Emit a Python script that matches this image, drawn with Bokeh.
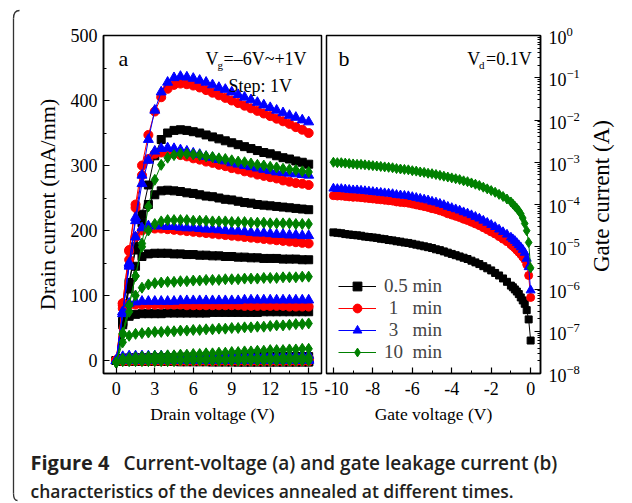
import math
from bokeh.plotting import figure
from bokeh.layouts import row, column
from bokeh.models import (Range1d, SingleIntervalTicker, LogTicker, Legend,
                          LegendItem, Label, NumeralTickFormatter)
from bokeh.embed import file_html
from bokeh.resources import INLINE
from bokeh.core.properties import value

SERIF = "Liberation Serif"

# ---------------- panel a data: drain current (mA/mm) vs drain voltage (V)
VD = [0, 0.5, 1, 1.5, 2, 2.5, 3, 3.5, 4, 4.5, 5, 5.5, 6, 6.5, 7, 7.5, 8, 8.5,
      9, 9.5, 10, 10.5, 11, 11.5, 12, 12.5, 13, 13.5, 14, 14.5, 15]
VG_LEVELS = ["+1", "0", "-1", "-2", "-3", "-4", "-5", "-6"]

ID_05MIN = [
    [0, 60, 120, 175, 225, 270, 315, 340, 350, 354, 355, 354, 352, 350, 347, 344, 341, 338, 335, 332, 329, 326, 323, 320, 318, 315, 312, 310, 307, 305, 302],
    [0, 60, 118, 170, 212, 240, 255, 261, 262, 261, 260, 258, 257, 255, 253, 252, 250, 248, 247, 245, 243, 242, 240, 239, 238, 237, 236, 235, 234, 233, 232],
    [0, 58, 110, 145, 160, 164, 165, 165, 165, 164, 164, 163, 163, 162, 162, 161, 161, 160, 160, 159, 159, 158, 158, 157, 157, 157, 156, 156, 156, 155, 155],
    [0, 55, 68, 71, 72, 72, 72, 72, 73, 73, 73, 73, 73, 73, 73, 74, 74, 74, 74, 74, 74, 74, 74, 75, 75, 75, 75, 75, 75, 75, 75],
    [0, 3, 4, 4, 4, 4, 4, 4, 4, 4, 5, 5, 5, 5, 5, 5, 5, 5, 5, 5, 5, 5, 6, 6, 6, 6, 6, 6, 6, 6, 6],
    [0, -1, -1, -1, -1, -1, -1, -1, -1, -1, -1, -1, -1, -1, -1, -1, -1, -1, -1, -2, -2, -2, -2, -2, -2, -2, -2, -2, -2, -2, -2],
    [0, -1, -1, -1, -1, -1, -1, -1, -1, -1, -1, -1, -1, -1, -1, -2, -2, -2, -2, -2, -2, -2, -2, -2, -2, -2, -2, -2, -2, -2, -2],
    [0, -1, -1, -1, -1, -1, -1, -1, -1, -1, -2, -2, -2, -2, -2, -2, -2, -2, -2, -2, -2, -2, -2, -2, -2, -2, -2, -2, -2, -2, -2],
]
ID_1MIN = [
    [0, 88, 170, 240, 300, 347, 383, 405, 418, 424, 426, 425, 423, 420, 416, 412, 408, 404, 400, 396, 392, 388, 384, 380, 376, 372, 368, 364, 359, 355, 350],
    [0, 88, 168, 235, 285, 310, 318, 320, 320, 318, 316, 314, 311, 309, 306, 304, 301, 299, 296, 294, 291, 289, 286, 284, 282, 280, 277, 275, 273, 272, 270],
    [0, 85, 155, 190, 200, 203, 203, 203, 202, 201, 200, 199, 198, 197, 196, 195, 194, 193, 192, 191, 190, 189, 188, 187, 186, 185, 184, 183, 182, 181, 180],
    [0, 80, 85, 86, 86, 86, 86, 86, 86, 86, 86, 85, 85, 85, 85, 85, 85, 85, 85, 85, 84, 84, 84, 84, 84, 84, 84, 83, 83, 83, 83],
    [0, 3, 3, 4, 4, 4, 4, 4, 4, 4, 4, 4, 4, 4, 4, 4, 4, 4, 4, 4, 4, 4, 4, 4, 4, 4, 4, 4, 4, 4, 4],
    [0, 1, 1, 1, 1, 1, 1, 1, 1, 1, 1, 1, 1, 1, 1, 1, 1, 1, 1, 1, 1, 1, 1, 1, 1, 1, 1, 1, 1, 1, 1],
    [0, 0, 0, 0, 0, 0, 0, 0, 0, 0, 0, 0, 0, 0, 0, 0, 0, 0, 0, 0, 0, 0, 0, 0, 0, 0, 0, 0, 0, 0, 0],
    [0, -1, -1, -1, -1, -1, -1, -1, -1, -1, -1, -1, -1, -1, -1, -1, -1, -1, -1, -1, -1, -1, -1, -1, -1, -1, -1, -1, -1, -1, -1],
]
ID_3MIN = [
    [0, 75, 150, 220, 285, 340, 385, 413, 428, 435, 437, 436, 434, 431, 428, 424, 420, 417, 413, 409, 405, 401, 397, 393, 389, 385, 381, 377, 374, 370, 367],
    [0, 75, 148, 215, 272, 308, 322, 326, 327, 326, 324, 322, 319, 317, 314, 312, 309, 307, 304, 302, 300, 298, 296, 294, 292, 290, 289, 288, 287, 286, 285],
    [0, 72, 145, 190, 204, 207, 207, 207, 206, 206, 205, 204, 204, 203, 202, 202, 201, 200, 199, 199, 198, 197, 196, 196, 195, 194, 194, 193, 193, 192, 192],
    [0, 72, 88, 90, 91, 91, 91, 91, 91, 91, 92, 92, 92, 92, 92, 92, 92, 92, 92, 92, 93, 93, 93, 93, 93, 93, 93, 93, 93, 93, 93],
    [0, 6, 7, 7, 7, 7, 7, 7, 7, 7, 7, 7, 7, 7, 7, 8, 8, 8, 8, 8, 8, 8, 8, 8, 8, 8, 8, 8, 8, 8, 8],
    [0, 1, 1, 1, 1, 1, 1, 1, 1, 2, 2, 2, 2, 2, 2, 2, 2, 2, 2, 2, 2, 2, 2, 2, 2, 2, 2, 2, 2, 2, 2],
    [0, 0, 0, 0, 0, 1, 1, 1, 1, 1, 1, 1, 1, 1, 1, 1, 1, 1, 1, 1, 1, 1, 1, 1, 1, 1, 1, 1, 1, 1, 1],
    [0, 0, 0, 0, 0, 0, 0, 0, 0, 0, 0, 0, 0, 0, 0, 0, 0, 0, 0, 0, 0, 0, 0, 0, 0, 0, 0, 0, 0, 0, 0],
]
ID_10MIN = [
    [-3, 42, 85, 130, 180, 237, 278, 301, 312, 316, 318, 318, 317, 316, 314, 313, 311, 310, 308, 306, 305, 303, 301, 300, 298, 297, 295, 294, 293, 291, 290],
    [-3, 42, 85, 130, 175, 200, 210, 214, 216, 216, 216, 216, 215, 215, 215, 214, 214, 214, 213, 213, 213, 212, 212, 212, 211, 211, 211, 211, 210, 210, 210],
    [-3, 40, 75, 100, 112, 117, 119, 120, 121, 121, 122, 122, 123, 123, 124, 124, 124, 125, 125, 125, 126, 126, 126, 127, 127, 127, 128, 128, 128, 129, 129],
    [-3, 28, 38, 41, 42, 43, 44, 44, 45, 45, 46, 46, 47, 47, 48, 48, 49, 49, 50, 50, 51, 51, 52, 52, 53, 54, 54, 55, 56, 56, 57],
    [-3, 3, 4, 5, 6, 6, 7, 7, 8, 8, 9, 9, 10, 10, 11, 11, 12, 12, 13, 13, 14, 14, 15, 15, 16, 16, 16, 17, 17, 18, 18],
    [-3, 0, 1, 1, 1, 1, 2, 2, 2, 2, 2, 2, 3, 3, 3, 3, 3, 3, 3, 4, 4, 4, 4, 4, 4, 4, 5, 5, 5, 5, 5],
    [-3, 0, 0, 0, 0, 0, 0, 1, 1, 1, 1, 1, 1, 1, 1, 1, 1, 1, 1, 1, 1, 1, 1, 1, 2, 2, 2, 2, 2, 2, 2],
    [-3, -1, -1, -1, -1, -1, -1, -1, -1, -1, 0, 0, 0, 0, 0, 0, 0, 0, 0, 0, 0, 0, 0, 0, 0, 0, 0, 0, 0, 0, 0],
]

# ---------------- panel b data: log10 gate current (A) vs gate voltage (V)
VGATE = [-10.0, -9.8, -9.6, -9.4, -9.2, -9.0, -8.8, -8.6, -8.4, -8.2,
         -8.0, -7.8, -7.6, -7.4, -7.2, -7.0, -6.8, -6.6, -6.4, -6.2,
         -6.0, -5.8, -5.6, -5.4, -5.2, -5.0, -4.8, -4.6, -4.4, -4.2,
         -4.0, -3.8, -3.6, -3.4, -3.2, -3.0, -2.8, -2.6, -2.4, -2.2,
         -2.0, -1.8, -1.6, -1.4, -1.2, -1.0,
         -0.9, -0.8, -0.7, -0.6, -0.5, -0.4, -0.3, -0.2, -0.1, 0.0]
LOG_IG_05MIN = [-4.66, -4.67, -4.68, -4.70, -4.71, -4.72, -4.73, -4.74, -4.76, -4.77,
                -4.78, -4.79, -4.81, -4.82, -4.84, -4.85, -4.87, -4.88, -4.90, -4.91,
                -4.93, -4.95, -4.97, -4.99, -5.01, -5.03, -5.06, -5.08, -5.11, -5.14,
                -5.17, -5.20, -5.23, -5.26, -5.29, -5.33, -5.37, -5.41, -5.46, -5.51,
                -5.56, -5.62, -5.68, -5.75, -5.83, -5.92,
                -5.96, -6.01, -6.06, -6.12, -6.20, -6.27, -6.35, -6.50, -6.72, -7.22]
LOG_IG_1MIN = [-3.79, -3.80, -3.80, -3.81, -3.82, -3.83, -3.83, -3.84, -3.85, -3.86,
               -3.87, -3.88, -3.89, -3.90, -3.91, -3.92, -3.94, -3.95, -3.96, -3.97,
               -3.99, -4.01, -4.03, -4.05, -4.07, -4.10, -4.12, -4.15, -4.18, -4.22,
               -4.25, -4.28, -4.31, -4.35, -4.38, -4.42, -4.46, -4.50, -4.55, -4.60,
               -4.65, -4.70, -4.76, -4.82, -4.88, -4.95,
               -4.99, -5.03, -5.08, -5.13, -5.18, -5.24, -5.30, -5.42, -5.68, -6.20]
LOG_IG_3MIN = [-3.62, -3.63, -3.63, -3.64, -3.65, -3.66, -3.66, -3.67, -3.68, -3.69,
               -3.70, -3.71, -3.72, -3.73, -3.74, -3.75, -3.77, -3.78, -3.79, -3.80,
               -3.82, -3.84, -3.86, -3.88, -3.90, -3.93, -3.95, -3.98, -4.01, -4.05,
               -4.08, -4.11, -4.14, -4.18, -4.21, -4.25, -4.29, -4.33, -4.38, -4.43,
               -4.48, -4.53, -4.59, -4.65, -4.71, -4.78,
               -4.82, -4.86, -4.91, -4.96, -5.01, -5.07, -5.14, -5.28, -5.48, -6.03]
LOG_IG_10MIN = [-3.00, -3.01, -3.01, -3.02, -3.03, -3.04, -3.05, -3.05, -3.06, -3.07,
                -3.08, -3.09, -3.10, -3.11, -3.12, -3.13, -3.15, -3.16, -3.17, -3.18,
                -3.20, -3.21, -3.23, -3.24, -3.26, -3.27, -3.29, -3.31, -3.33, -3.35,
                -3.37, -3.39, -3.41, -3.44, -3.46, -3.49, -3.52, -3.55, -3.59, -3.63,
                -3.67, -3.71, -3.76, -3.81, -3.87, -3.94,
                -3.99, -4.04, -4.09, -4.15, -4.22, -4.32, -4.45, -4.62, -4.90, -5.50]

SERIES_NAMES = ["0.5 min", " 1   min", " 3   min", "10  min"]
SERIES_COLORS = ["#000000", "#FF0000", "#0000FF", "#008000"]
SERIES_MARKERS = ["square", "circle", "triangle", "diamond"]
MARKER_SIZES_A = [8, 9, 10, 11]
MARKER_SIZES_B = [7, 8, 9, 10]

CAPTION_BOLD = "Figure 4"
CAPTION_LINE1 = "Current-voltage (a) and gate leakage current (b)"
CAPTION_LINE2 = "characteristics of the devices annealed at different times."
CAP_FONT = "Open Sans SemiBold"
RIGHT_TITLE = "Gate current (A)"


def style_axis(ax, label_size):
    ax.axis_label_text_font = SERIF
    ax.axis_label_text_font_style = "normal"
    ax.axis_label_text_font_size = label_size
    ax.axis_label_text_color = "black"
    ax.major_label_text_font = SERIF
    ax.major_label_text_font_size = "18px"
    ax.major_label_text_color = "black"
    ax.axis_line_width = 1.5
    ax.major_tick_in = 6
    ax.major_tick_out = 0
    ax.minor_tick_in = 3
    ax.minor_tick_out = 0
    ax.major_tick_line_width = 1.2
    ax.minor_tick_line_width = 1.0


PANEL_H = 440

# ---------------- panel a
XA0, XA1, YA0, YA1 = -1, 16, -20, 500
pa = figure(width=304, height=PANEL_H, x_range=Range1d(XA0, XA1), y_range=Range1d(YA0, YA1),
            output_backend="svg", toolbar_location=None,
            min_border_left=83, min_border_right=3, min_border_top=35, min_border_bottom=67)
pa.grid.visible = False
pa.outline_line_color = "black"
pa.outline_line_width = 1.5
pa.xaxis.axis_label = "Drain voltage (V)"
pa.yaxis.axis_label = "Drain current (mA/mm)"
pa.xaxis[0].ticker = SingleIntervalTicker(interval=3, num_minor_ticks=2)
pa.yaxis[0].ticker = SingleIntervalTicker(interval=100, num_minor_ticks=2)
style_axis(pa.xaxis[0], "17.5px")
style_axis(pa.yaxis[0], "22px")
pa.xaxis.major_label_standoff = 8
pa.yaxis.major_label_standoff = 6
pa.xaxis.axis_label_standoff = 6
pa.yaxis.axis_label_standoff = 8

for curves, color, marker, size in zip([ID_05MIN, ID_1MIN, ID_3MIN, ID_10MIN],
                                       SERIES_COLORS, SERIES_MARKERS, MARKER_SIZES_A):
    for ys in curves:
        pa.line(VD, ys, line_color=color, line_width=1)
        pa.scatter(VD, ys, marker=marker, size=size, fill_color=color, line_color=color)


def pa_xy(px, py):
    return (XA0 + (px - 103) / 218 * (XA1 - XA0), YA0 + (373 - py) / 338 * (YA1 - YA0))


def add_label(p, xy, text, size, **kw):
    opts = dict(text_baseline="alphabetic", text_align="left")
    opts.update(kw)
    p.add_layout(Label(x=xy[0], y=xy[1], text=text, text_font=SERIF,
                       text_font_size=size, text_color="black", **opts))


add_label(pa, pa_xy(118, 58), "a", "22px")
add_label(pa, pa_xy(205, 58), "V", "18px")
add_label(pa, pa_xy(217, 64), "g", "11px")
add_label(pa, pa_xy(223, 58), "=\u20136V~+1V", "18px")
add_label(pa, pa_xy(228, 85), "Step: 1V", "18px")

# ---------------- panel b
XB0, XB1 = -10.35, 0.5
pb = figure(width=258, height=PANEL_H, x_range=Range1d(XB0, XB1), y_range=Range1d(1e-8, 1),
            y_axis_type="log", y_axis_location="right",
            output_backend="svg", toolbar_location=None,
            min_border_left=2, min_border_right=40, min_border_top=35, min_border_bottom=67)
pb.grid.visible = False
pb.outline_line_color = "black"
pb.outline_line_width = 1.5
pb.xaxis.axis_label = "Gate voltage (V)"
pb.xaxis[0].ticker = SingleIntervalTicker(interval=2, num_minor_ticks=2)
pb.xaxis[0].formatter = NumeralTickFormatter(format="0")
pb.yaxis[0].ticker = LogTicker(mantissas=[1], num_minor_ticks=10)
style_axis(pb.xaxis[0], "17.5px")
style_axis(pb.yaxis[0], "22px")
pb.xaxis.major_label_standoff = 8
pb.yaxis.major_label_standoff = 8
pb.xaxis.axis_label_standoff = 6

items = []
for logs, name, color, marker, size in zip([LOG_IG_05MIN, LOG_IG_1MIN, LOG_IG_3MIN, LOG_IG_10MIN],
                                           SERIES_NAMES, SERIES_COLORS, SERIES_MARKERS,
                                           MARKER_SIZES_B):
    ig = [10 ** v for v in logs]
    lr = pb.line(VGATE, ig, line_color=color, line_width=1)
    sr = pb.scatter(VGATE, ig, marker=marker, size=size, fill_color=color, line_color=color)
    items.append(LegendItem(label=name, renderers=[lr, sr]))

legend = Legend(items=items, location=(12, 10), padding=0, margin=0, spacing=0,
                glyph_width=38, glyph_height=22, label_height=22, label_standoff=8,
                label_text_font=SERIF, label_text_font_size="19px",
                background_fill_alpha=0, border_line_color=None)
pb.add_layout(legend)


def pb_xy(px, py):
    return (XB0 + (px - 326) / 216 * (XB1 - XB0), 10 ** (-8 + (373 - py) / 338 * 8))


add_label(pb, pb_xy(338, 58), "b", "22px")
add_label(pb, pb_xy(468, 58), "V", "18px")
add_label(pb, pb_xy(480, 64), "d", "11px")
add_label(pb, pb_xy(487, 58), "=0.1V", "18px")

# ---------------- right-hand axis title of panel b (own strip, reads bottom-to-top)
RT_W = 42
rt = figure(width=RT_W, height=PANEL_H, x_range=Range1d(0, RT_W), y_range=Range1d(0, PANEL_H),
            output_backend="svg", toolbar_location=None, min_border=0,
            x_axis_location=None, y_axis_location=None)
rt.grid.visible = False
rt.outline_line_color = None
rt.text(x=[19], y=[PANEL_H - 209], text=[RIGHT_TITLE], angle=math.pi / 2,
        text_font=value(SERIF), text_font_size="23px", text_color="black",
        text_align="center", text_baseline="middle")

# ---------------- caption
CAP_H = 62
cap = figure(width=604, height=CAP_H, x_range=Range1d(0, 604), y_range=Range1d(CAP_H, 0),
             output_backend="svg", toolbar_location=None, min_border=0,
             x_axis_location=None, y_axis_location=None)
cap.grid.visible = False
cap.outline_line_color = None
cap.text(x=[10], y=[22], text=[CAPTION_BOLD], text_font=value("Open Sans"),
         text_font_style="bold", text_font_size="20px", text_color="#231f20",
         text_baseline="alphabetic")
cap.text(x=[103], y=[22], text=[CAPTION_LINE1], text_font=value(CAP_FONT),
         text_font_size="19px", text_color="#231f20", text_baseline="alphabetic")
cap.text(x=[10], y=[50], text=[CAPTION_LINE2], text_font=value(CAP_FONT),
         text_font_size="17.5px", text_color="#231f20", text_baseline="alphabetic")

# ---------------- left bracket of the frame
BR_H = PANEL_H + CAP_H
br = figure(width=20, height=BR_H, x_range=Range1d(0, 20), y_range=Range1d(BR_H, 0),
            output_backend="svg", toolbar_location=None, min_border=0,
            x_axis_location=None, y_axis_location=None)
br.grid.visible = False
br.outline_line_color = None
br.bezier(x0=[19], y0=[10], x1=[13], y1=[18], cx0=[15], cy0=[10], cx1=[13], cy1=[13],
          line_color="#333333", line_width=1.3)
br.segment(x0=[13], y0=[18], x1=[13], y1=[BR_H - 9], line_color="#333333", line_width=1.3)
br.bezier(x0=[13], y0=[BR_H - 9], x1=[17], y1=[BR_H - 2], cx0=[13], cy0=[BR_H - 5],
          cx1=[14.5], cy1=[BR_H - 2], line_color="#333333", line_width=1.3)

layout = row(br, column(row(pa, pb, rt), cap))
open("out.html", "w").write(file_html(layout, INLINE))
